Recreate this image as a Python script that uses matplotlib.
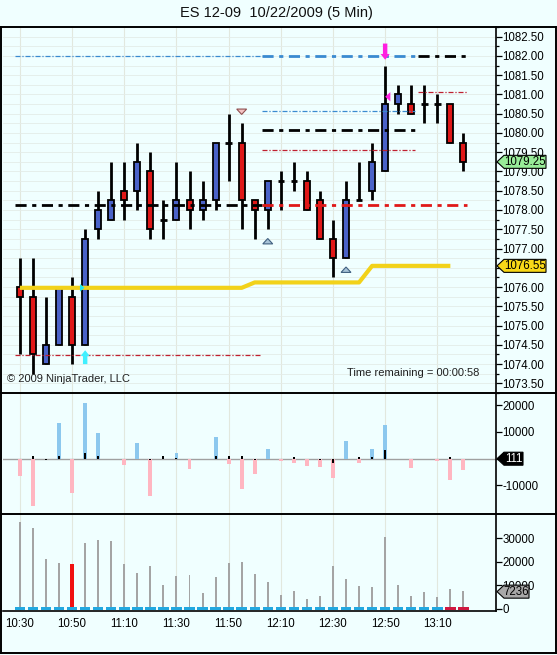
import matplotlib
matplotlib.use('Agg')
import matplotlib.pyplot as plt
from matplotlib.patches import Polygon, Rectangle
from matplotlib.lines import Line2D
from matplotlib.transforms import IdentityTransform

plt.rcParams['font.family'] = ['Liberation Sans', 'DejaVu Sans']

# ---- data (5 min bars from 10:30) ----
time_labels = ['10:30', '10:50', '11:10', '11:30', '11:50', '12:10', '12:30', '12:50', '13:10']
opens = [1076.0, 1075.75, 1074.0, 1074.5, 1075.75, 1074.5, 1077.5, 1077.75, 1078.5, 1078.5,
         1079.0, 1077.75, 1077.75, 1078.25, 1078.0, 1078.25, 1079.75, 1079.75, 1078.25, 1078.0,
         1078.75, 1078.75, 1078.75, 1078.25, 1077.25, 1076.75, 1078.25, 1078.5, 1079.0, 1080.75,
         1080.75, 1080.75, 1080.75, 1080.75, 1079.75]
highs = [1076.75, 1076.75, 1075.75, 1076.0, 1076.25, 1077.5, 1078.5, 1079.25, 1079.25, 1079.75,
         1079.5, 1078.25, 1079.25, 1079.0, 1078.75, 1079.75, 1080.5, 1080.25, 1078.25, 1078.75,
         1079.0, 1079.25, 1079.0, 1078.5, 1077.75, 1078.75, 1079.25, 1079.75, 1081.75, 1081.25,
         1081.25, 1081.25, 1081.0, 1080.75, 1080.0]
lows = [1074.25, 1073.75, 1074.0, 1074.5, 1074.0, 1074.5, 1077.25, 1077.75, 1077.75, 1078.0,
        1077.25, 1077.25, 1077.75, 1077.5, 1077.75, 1078.0, 1078.75, 1077.5, 1077.25, 1077.5,
        1078.0, 1078.5, 1078.0, 1077.25, 1076.25, 1076.75, 1078.25, 1078.25, 1079.0, 1080.5,
        1080.5, 1080.25, 1080.25, 1079.75, 1079.0]
closes = [1075.75, 1074.25, 1074.5, 1076.0, 1074.5, 1077.25, 1078.0, 1078.25, 1078.25, 1079.25,
          1077.5, 1077.75, 1078.25, 1078.0, 1078.25, 1079.75, 1079.75, 1078.25, 1078.0, 1078.75,
          1078.75, 1078.75, 1078.0, 1077.25, 1076.75, 1078.25, 1078.25, 1079.25, 1080.75, 1081.0,
          1080.5, 1080.75, 1080.75, 1079.75, 1079.25]

# yellow stepped indicator (bars 0..33)
gold_line = [1075.98] * 18 + [1076.12] * 9 + [1076.55] * 7

# horizontal levels: price, from bar, to bar
level_price = [1082.0, 1082.0, 1082.0, 1080.56, 1080.08, 1079.56, 1081.05, 1078.12, 1078.12, 1074.23]
level_from = [-0.4, 18.55, 30.5, 18.55, 18.55, 18.55, 30.5, -0.4, 18.55, -0.4]
level_to = [18.55, 30.3, 34.3, 30.3, 30.3, 30.3, 34.3, 18.55, 34.3, 18.4]
level_kind = ['thin_blue', 'thick_blue', 'thick_black', 'thin_blue', 'thick_black', 'thin_red',
              'thin_red', 'thick_black', 'thick_red', 'thin_red']

delta = [-6300, -17800, 0, 13500, -12700, 20900, 9800, 0, -2300, 5700,
         -14000, 0, 2000, -3800, 0, 8300, -2000, -11200, -5700, 3800,
         -900, -1600, -2700, -3100, -7200, 6800, -1700, 3800, 12500, 0,
         -3500, 0, -700, -8000, -4200]
delta_inner = [0, 1100, -300, 1100, 0, 2000, 1100, 0, 0, 0,
               -600, 900, 400, 0, 0, 900, 900, 900, -600, 0,
               0, 500, 0, -600, -1600, 0, 500, 500, 3100, -200,
               0, 0, 0, 500, 0]

volume = [37000, 34400, 21100, 19600, 19100, 28100, 29300, 28900, 19100, 15300,
          18100, 10000, 13900, 14300, 6600, 13400, 19600, 19900, 14700, 11400,
          5600, 7600, 4000, 5300, 18100, 12700, 9600, 9100, 30700, 10000,
          5300, 7000, 4900, 8300, 7400]
volume_hi_bar = 4

W, H = 557, 655
BG = '#F0FFFF'
GRID = '#E2E8DE'

fig = plt.figure(figsize=(W / 100, H / 100), dpi=100, facecolor=BG)


def fbox(x0, y0, x1, y1):
    return [x0 / W, 1 - y1 / H, (x1 - x0) / W, (y1 - y0) / H]


ax = fig.add_axes(fbox(3, 27, 496, 393), facecolor=BG)
axd = fig.add_axes(fbox(3, 393, 496, 514), facecolor=BG, sharex=ax)
axv = fig.add_axes(fbox(3, 514, 496, 611), facecolor=BG, sharex=ax)

n = len(opens)
xs = list(range(n))

for a in (ax, axd, axv):
    for s in ('left', 'top', 'bottom'):
        a.spines[s].set_visible(False)
    a.spines['right'].set_linewidth(1.2)
    a.yaxis.tick_right()
    a.set_xticks(range(0, n, 4))
    a.grid(axis='x', color=GRID, lw=0.8)
    a.tick_params(axis='x', length=0)
    a.tick_params(axis='y', labelsize=8.3, direction='out', length=4, width=0.9, pad=0.8)
    a.set_axisbelow(True)

ax.set_xlim(-1.3, 36.5)
ax.set_ylim(1073.37, 1082.70)
ax.set_yticks([1073.5 + 0.5 * k for k in range(19)])
ax.set_yticks([1073.25 + 0.5 * k for k in range(20)], minor=True)
ax.yaxis.set_major_formatter(matplotlib.ticker.FormatStrFormatter('%.2f'))
ax.tick_params(axis='y', which='minor', length=2.5, width=0.9)
ax.grid(axis='y', which='both', color='#E4ECE8', lw=0.6)
plt.setp(ax.get_xticklabels(), visible=False)
plt.setp(axd.get_xticklabels(), visible=False)

# level lines
styles = {
    'thin_blue': dict(color='#3A8AD0', lw=0.9, ls=(0, (4, 1.5, 1, 1.5))),
    'thick_blue': dict(color='#3A8AD0', lw=2.0, ls=(0, (4, 2, 1.5, 2))),
    'thick_black': dict(color='black', lw=2.0, ls=(0, (4, 2, 1.5, 2))),
    'thin_red': dict(color='#C02030', lw=0.9, ls=(0, (4, 1.5, 1, 1.5))),
    'thick_red': dict(color='#E01818', lw=2.0, ls=(0, (4, 2, 1.5, 2))),
}
for p, a0, a1, k in zip(level_price, level_from, level_to, level_kind):
    ax.plot([a0, a1], [p, p], zorder=4, **styles[k])

# candles
bw = 0.46
for i in xs:
    o, h, l, c = opens[i], highs[i], lows[i], closes[i]
    ax.vlines(i, l, h, color='black', lw=2, zorder=3)
    if o == c:
        ax.hlines(o, i - 0.25, i + 0.25, color='black', lw=2, zorder=3)
    else:
        col = '#4A62C8' if c > o else '#E01818'
        ax.add_patch(Rectangle((i - bw / 2, min(o, c)), bw, abs(c - o), facecolor=col,
                               edgecolor='black', lw=1.3, zorder=3.5))

ax.plot(range(len(gold_line)), gold_line, color='#F2D21A', lw=3, zorder=5, solid_capstyle='butt')


def tri(a, x, y, dx, dy, fc, ec):
    a.add_patch(Polygon([(x - dx, y), (x + dx, y), (x, y + dy)], closed=True, facecolor=fc,
                        edgecolor=ec, lw=0.8, zorder=6))


# signal markers
tri(ax, 17, 1080.62, 0.38, -0.14, '#F4C4C4', '#905050')
tri(ax, 19, 1077.12, 0.38, 0.14, '#A8C4D8', '#406080')
tri(ax, 25, 1076.38, 0.38, 0.14, '#A8C4D8', '#406080')
ax.add_patch(Polygon([(28.0, 1080.94), (28.4, 1081.06), (28.4, 1080.82)], closed=True,
                     facecolor='#FF20E0', edgecolor='none', zorder=6))
ax.add_patch(Polygon([(4.6, 1076.08), (4.95, 1075.98), (4.6, 1075.88)], closed=True,
                     facecolor='#20E8F0', edgecolor='none', zorder=6))


def arrow(a, x, tip, tail, head, col):
    a.add_patch(Polygon([(x - 0.17, tail), (x + 0.17, tail), (x + 0.17, tip + head),
                         (x + 0.35, tip + head), (x, tip), (x - 0.35, tip + head),
                         (x - 0.17, tip + head)], closed=True, facecolor=col,
                        edgecolor='none', zorder=6))


arrow(ax, 28, 1081.9, 1082.32, 0.15, '#FF20E0')
arrow(ax, 5, 1074.36, 1074.0, -0.15, '#40F0FF')

ax.text(0.008, 0.025, '\u00a9 2009 NinjaTrader, LLC', transform=ax.transAxes, fontsize=8,
        color='#202020', va='bottom', ha='left')
ax.text(0.967, 0.04, 'Time remaining = 00:00:58', transform=ax.transAxes, fontsize=8,
        color='#202020', va='bottom', ha='right')

# delta panel
axd.set_ylim(-20700, 24600)
axd.set_yticks([-10000, 0, 10000, 20000])
axd.set_yticklabels(['-10000', '', '10000', '20000'])
axd.axhline(0, color='#A0A0A0', lw=1, zorder=1)
dcols = ['#8CC8EE' if d > 0 else '#FFB6C1' for d in delta]
axd.bar(xs, delta, width=0.3, color=dcols, zorder=2)
axd.bar(xs, delta_inner, width=0.15, color='black', zorder=3)

# volume panel
axv.set_ylim(-1000, 40300)
axv.set_yticks([0, 10000, 20000, 30000])
vcols = ['#A4A4A4'] * n
vw = [0.15] * n
vcols[volume_hi_bar] = '#F01010'
vw[volume_hi_bar] = 0.3
axv.bar(xs, volume, width=vw, color=vcols, zorder=2)
mcols = ['#22A8E0'] * (n - 2) + ['#D01840'] * 2
axv.bar(xs, [1300] * n, bottom=-650, width=0.8, color=mcols, zorder=3)
axv.spines['bottom'].set_visible(True)
axv.spines['bottom'].set_linewidth(1.2)
axv.set_xticklabels(time_labels, fontsize=8.3)
axv.tick_params(axis='x', pad=5)

# frame lines in pixels
for (x0, y0, x1, y1) in [(1, 27, 556, 27), (1, 393, 556, 393), (1, 514, 556, 514),
                         (1, 653, 556, 653), (1, 27, 1, 653), (555.5, 27, 555.5, 653)]:
    fig.add_artist(Line2D([x0 / W, x1 / W], [1 - y0 / H, 1 - y1 / H], transform=fig.transFigure,
                          color='black', lw=1.4))

fig.text(276 / W, 1 - 13 / H, 'ES 12-09  10/22/2009 (5 Min)', ha='center', va='center',
         fontsize=10.5, color='#101010')


def tag(a, value, label, fc, tc, width):
    fig.canvas.draw()
    y = a.transData.transform((0, value))[1]
    x0 = a.transAxes.transform((1, 0))[0] + 1
    hh = 6.5
    pts = [(x0, y), (x0 + 7, y + hh), (x0 + width, y + hh), (x0 + width, y - hh), (x0 + 7, y - hh)]
    fig.add_artist(Polygon(pts, closed=True, facecolor=fc, edgecolor='black', lw=0.8,
                           transform=IdentityTransform(), zorder=10))
    fig.text(x0 + 7 + (width - 7) / 2, y, label, transform=IdentityTransform(), ha='center',
             va='center', fontsize=8.3, color=tc, zorder=11)


tag(ax, closes[-1], '1079.25', '#98EC98', 'black', 49)
tag(ax, gold_line[-1], '1076.55', '#F8D818', 'black', 49)
tag(axd, 0, '111', 'black', 'white', 26)
tag(axv, 7236, '7236', '#A8A8A8', 'black', 32)

fig.savefig('out.png', dpi=100, facecolor=BG)
